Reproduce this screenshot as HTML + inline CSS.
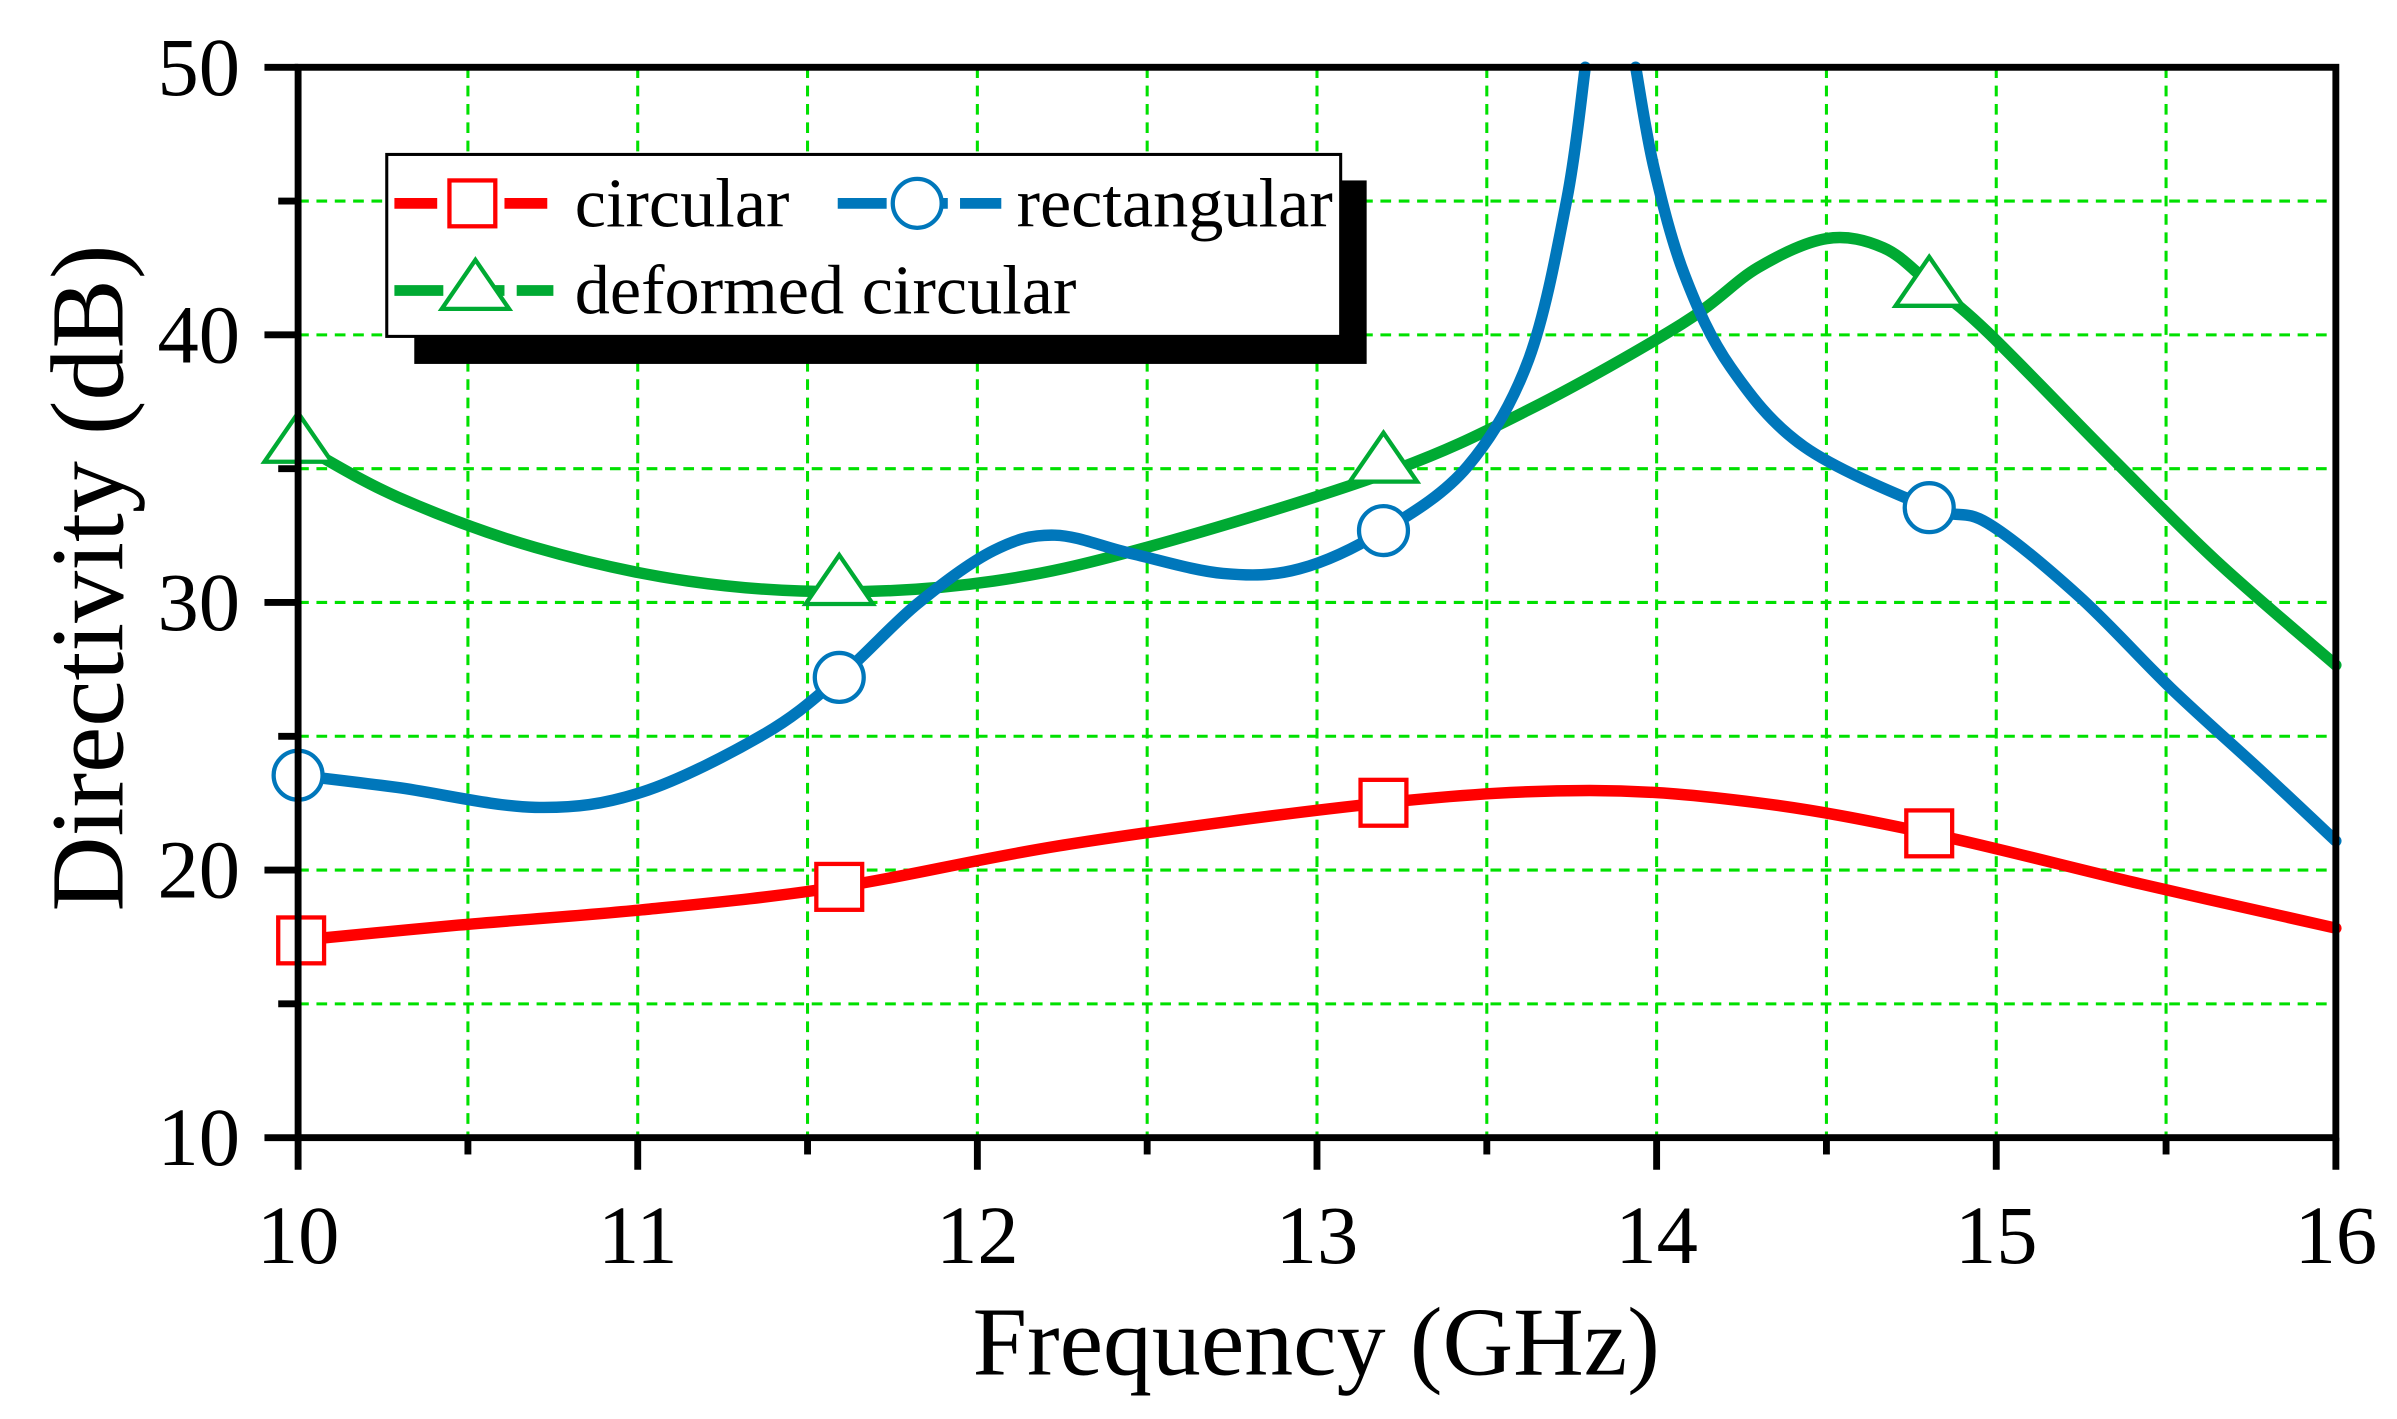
<!DOCTYPE html>
<html><head><meta charset="utf-8"><style>
html,body{margin:0;padding:0;background:#fff;}
svg{display:block;}
text{font-family:"Liberation Serif",serif;fill:#000;}
</style></head><body>
<svg id="s" width="2397" height="1419" viewBox="0 0 1568 928" preserveAspectRatio="none" xmlns="http://www.w3.org/2000/svg">
<g id="grid" stroke="#00e000" stroke-width="2" stroke-dasharray="7,5" fill="none"></g>
<g id="curves" fill="none" stroke-width="7.5" stroke-linecap="round" stroke-linejoin="round"></g>
<g id="marks" stroke-width="2.8"></g>
<g id="axes" stroke="#000" stroke-width="4.5" fill="none"></g>
<g id="labels" font-size="54"></g>
<text x="861" y="899" font-size="64" text-anchor="middle">Frequency (GHz)</text>
<text transform="translate(80,378) rotate(-90)" font-size="68" text-anchor="middle">Directivity (dB)</text>
<!-- legend -->
<rect x="271" y="118" width="623" height="120" fill="#000"/>
<rect x="253" y="101" width="624" height="119" fill="#fff" stroke="#000" stroke-width="2"/>
<line x1="258" y1="133" x2="362" y2="133" stroke="#f00" stroke-width="7" stroke-dasharray="28,8"/>
<rect x="294" y="118" width="30" height="30" fill="#fff" stroke="#f00" stroke-width="2.8"/>
<text x="376" y="148" font-size="46">circular</text>
<line x1="548" y1="133" x2="655" y2="133" stroke="#0077bb" stroke-width="7" stroke-dasharray="32,8"/>
<circle cx="600" cy="133" r="16" fill="#fff" stroke="#0077bb" stroke-width="2.8"/>
<text x="665" y="148" font-size="46">rectangular</text>
<line x1="258" y1="190" x2="362" y2="190" stroke="#00aa33" stroke-width="7" stroke-dasharray="32,8"/>
<polygon points="311,170 333,202 289,202" fill="#fff" stroke="#00aa33" stroke-width="2.8"/>
<text x="376" y="205" font-size="46">deformed circular</text>
</svg>
<script>
const NS="http://www.w3.org/2000/svg";
const X=f=>195+(f-10)*222.17, Y=d=>744-(d-10)*17.5;
function el(p,t,a){const e=document.createElementNS(NS,t);for(const k in a)e.setAttribute(k,a[k]);document.getElementById(p).appendChild(e);return e;}
for(let f=10.5;f<16;f+=0.5)el("grid","line",{x1:X(f),y1:44,x2:X(f),y2:744});
for(let d=15;d<50;d+=5)el("grid","line",{x1:195,y1:Y(d),x2:1528,y2:Y(d)});
function cr(p){let s=`M${p[0][0]},${p[0][1]}`;for(let i=0;i<p.length-1;i++){const a=p[i-1]||p[i],b=p[i],c=p[i+1],d=p[i+2]||c;
s+=` C${b[0]+(c[0]-a[0])/6},${b[1]+(c[1]-a[1])/6} ${c[0]-(d[0]-b[0])/6},${c[1]-(d[1]-b[1])/6} ${c[0]},${c[1]}`;}return s;}
const red=[[195,615],[300,605],[420,595],[549,580],[700,552],[905,525],[1040,517],[1150,525],[1262,545],[1400,578],[1528,607]];
const blue1=[[195,507],[260,515],[350,528],[420,518],[500,480],[549,443],[600,395],[650,360],[690,350],[740,362],[800,375],[850,372],[905,347],[960,305],[1000,235],[1025,130],[1037,44]];
const blue2=[[1070,44],[1082,110],[1102,180],[1132,240],[1180,292],[1262,332],[1300,342],[1360,390],[1420,450],[1480,505],[1528,550]];
const green=[[195,290],[260,325],[350,358],[450,380],[549,387],[650,380],[750,358],[905,310],[1000,268],[1100,212],[1150,175],[1195,156],[1232,162],[1262,185],[1300,217],[1380,298],[1450,367],[1528,435]];
el("curves","path",{d:cr(green),stroke:"#00aa33"});
el("curves","path",{d:cr(blue1),stroke:"#0077bb"});
el("curves","path",{d:cr(blue2),stroke:"#0077bb"});
el("curves","path",{d:cr(red),stroke:"#f00"});
[[195,290],[549,383],[905,303],[1262,188]].forEach(p=>el("marks","polygon",{points:`${p[0]},${p[1]-20} ${p[0]+22},${p[1]+12} ${p[0]-22},${p[1]+12}`,fill:"#fff",stroke:"#00aa33"}));
[[195,507],[549,443],[905,347],[1262,332]].forEach(p=>el("marks","circle",{cx:p[0],cy:p[1],r:16,fill:"#fff",stroke:"#0077bb"}));
[[197,615],[549,580],[905,525],[1262,545]].forEach(p=>el("marks","rect",{x:p[0]-15,y:p[1]-15,width:30,height:30,fill:"#fff",stroke:"#f00"}));
el("axes","rect",{x:195,y:44,width:1333,height:700});
for(let d=10;d<=50;d+=5)el("axes","line",{x1:d%10?182:173,y1:Y(d),x2:195,y2:Y(d)});
for(let f=10;f<=16;f+=0.5)el("axes","line",{x1:X(f),y1:744,x2:X(f),y2:f%1?755:765});
for(let d=10;d<=50;d+=10){const t=el("labels","text",{x:157,y:Y(d)+18,"text-anchor":"end"});t.textContent=d;}
for(let f=10;f<=16;f++){const t=el("labels","text",{x:X(f),y:826,"text-anchor":"middle"});t.textContent=f;}
</script>
</body></html>
